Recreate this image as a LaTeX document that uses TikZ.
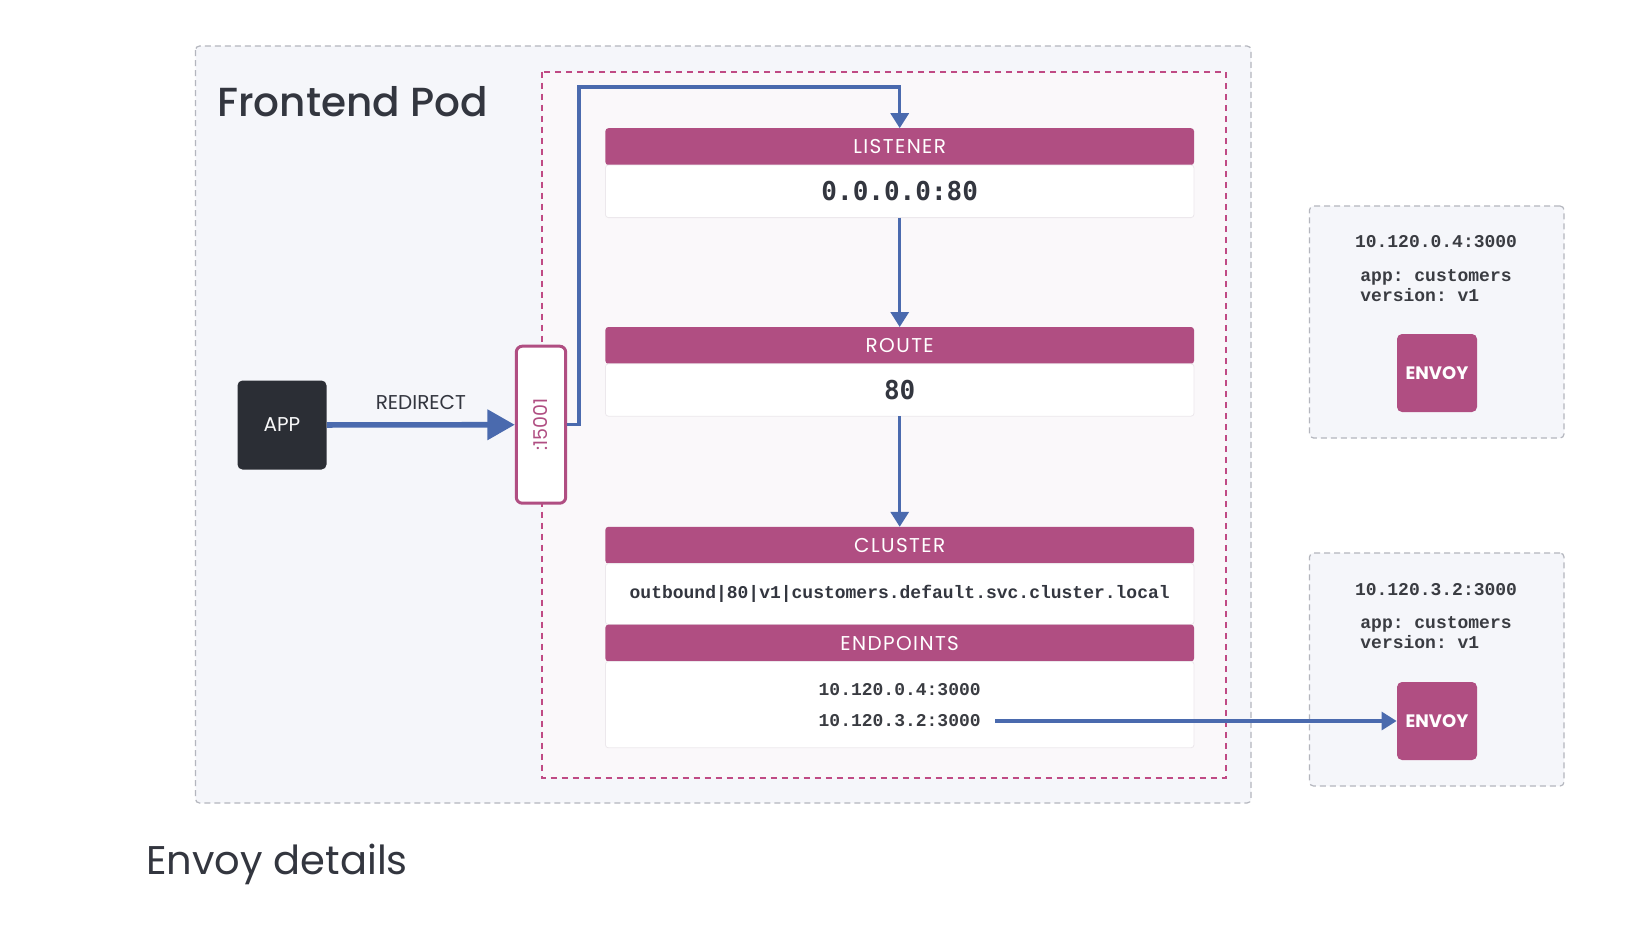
\documentclass[tikz,border=0pt]{standalone}
\usepackage{fontspec}
\setmainfont{Poppins}
\IfFontExistsTF{Poppins Medium}{\newfontfamily\titlefont{Poppins Medium}}{\newfontfamily\titlefont{Poppins}}
\newfontfamily\headfont{Poppins}[LetterSpace=7]
\newfontfamily\ipfont{Liberation Mono}
\newfontfamily\addrfont{DejaVu Sans Mono}
\usepackage{tikz}
\usetikzlibrary{ arrows.meta, calc, positioning }

\definecolor{podfill}{HTML}{F5F6FA}
\definecolor{podline}{HTML}{B4B6BE}
\definecolor{zonefill}{HTML}{FAF8FA}
\definecolor{zoneline}{HTML}{C04A84}
\definecolor{envoypink}{HTML}{B04E82}
\definecolor{flowblue}{HTML}{4A6AAE}
\definecolor{appdark}{HTML}{2B2E35}
\definecolor{ink}{HTML}{33363F}
\definecolor{ipink}{HTML}{3A3C42}
\definecolor{cardedge}{HTML}{ECE8EC}

\tikzset{
x=0.5pt, y=-0.5pt, % one unit is one pixel of the sketch
>={Triangle[width=9pt,length=7.5pt]}, % small filled heads
node distance=55pt, % gap between the cards
flow/.style={draw=flowblue, line width=1.6pt, -{Triangle[width=9pt,length=7.5pt]}},
head/.style={fill=envoypink, text=white, minimum width=294.3pt, minimum height=18.4pt, inner sep=0pt, outer sep=0pt, rounded corners=1.5pt, font=\headfont\fontsize{10}{12}\selectfont},
body/.style={fill=white, draw=cardedge, line width=0.4pt, text=ink, minimum width=294.3pt, inner sep=0pt, outer sep=0pt, rounded corners=1.5pt},
ip/.style={font=\ipfont\bfseries\fontsize{9}{10}\selectfont\frenchspacing, text=ipink, inner sep=0pt},
envoy/.style={fill=envoypink, text=white, minimum width=40pt, minimum height=39pt, rounded corners=2.5pt, font=\bfseries\fontsize{9}{11}\selectfont},
hostbox/.style={fill=podfill, draw=podline, line width=0.6pt, dash pattern=on 3pt off 2pt, minimum width=127.25pt, rounded corners=2pt},
}

\begin{document}
\begin{tikzpicture}[node distance=55pt]
  \path[use as bounding box, fill=white] (0,0) rectangle (1648,948);

  % pod and sidecar zone
  \draw[fill=podfill, draw=podline, line width=0.6pt, dash pattern=on 3pt off 2pt, rounded corners=2pt] (195.5,46) rectangle (1251,803);
  \draw[fill=zonefill, draw=zoneline, line width=1pt, dash pattern=on 3pt off 2.5pt] (542,71.5) rectangle (1225.5,778);
  \node[anchor=base west, inner sep=0pt, text=ink, font=\titlefont\fontsize{20.3}{24}\selectfont] (podtitle) at (217,116) {Frontend Pod};

  \node[fill=appdark, text=white!90!podline, minimum size=44.5pt, rounded corners=2.5pt, font=\fontsize{10}{12}\selectfont] (app) at (282,425) {APP};
  \node[fill=white, draw=envoypink, line width=1.5pt, minimum width=24.7pt, minimum height=78.5pt, rounded corners=3pt, text=envoypink, font=\fontsize{9.5}{11}\selectfont] (port) at (541,424.7) {\rotatebox{90}{:15001}};

  % listener, route and cluster cards
  \node[head] (lhead) at (899.7,146.6) {LISTENER};
  \node[body, minimum height=26.3pt, below=0pt of lhead] (lbody) {\addrfont\bfseries\fontsize{13}{15}\selectfont 0.0.0.0:80};
  \node[head, below=54.7pt of lbody] (rhead) {ROUTE};
  \node[body, minimum height=26.2pt, below=0pt of rhead] (rbody) {\addrfont\bfseries\fontsize{13}{15}\selectfont 80};
  \node[head, below=55.3pt of rbody] (chead) {CLUSTER};
  \node[body, minimum height=30.5pt, below=0pt of chead] (cbody) {\ipfont\bfseries\fontsize{9}{10}\selectfont outbound|80|v1|customers.default.svc.cluster.local};
  \node[head, below=0pt of cbody] (ehead) {ENDPOINTS};
  \node[body, minimum height=43.2pt, below=0pt of ehead] (ebody) {};
  \node[ip] (ep1) at (899.7,689.5) {10.120.0.4:3000};
  \node[ip, inner xsep=7pt] (ep2) at (899.7,721) {10.120.3.2:3000};

  % other pods
  \node[hostbox, minimum height=116pt] (host1) at (1436.75,322) {};
  \node[ip] (hip1) at (1436,242) {10.120.0.4:3000};
  \node[ip, align=left, anchor=west] (hlab1) at (1360,286) {app: customers\\version: v1};
  \node[envoy] (envoy1) at (1437,373) {ENVOY};
  \node[hostbox, minimum height=116.5pt] (host2) at (1436.75,669.5) {};
  \node[ip] (hip2) at (1436,589.6) {10.120.3.2:3000};
  \node[ip, align=left, anchor=west] (hlab2) at (1360,633) {app: customers\\version: v1};
  \node[envoy] (envoy2) at (1437,721) {ENVOY};

  \node[anchor=base west, inner sep=0pt, text=ink, font=\fontsize{20}{24}\selectfont] (caption) at (146,874) {Envoy details};

  \draw[flowblue, line width=2.8pt, -{Triangle[width=14.7pt,length=13.7pt]}] (app) -- node[above=3pt, text=ink, font=\fontsize{10}{12}\selectfont] {REDIRECT} (port);
  \coordinate (bend) at (579,87);
  \draw[flow] (port.east) -| (bend) -| (lhead.north);
  \draw[flow] (lbody) -- (rhead);
  \draw[flow] (rbody) -- (chead);
  \draw[flow] (ep2) -- (envoy2);
\end{tikzpicture}
\end{document}
